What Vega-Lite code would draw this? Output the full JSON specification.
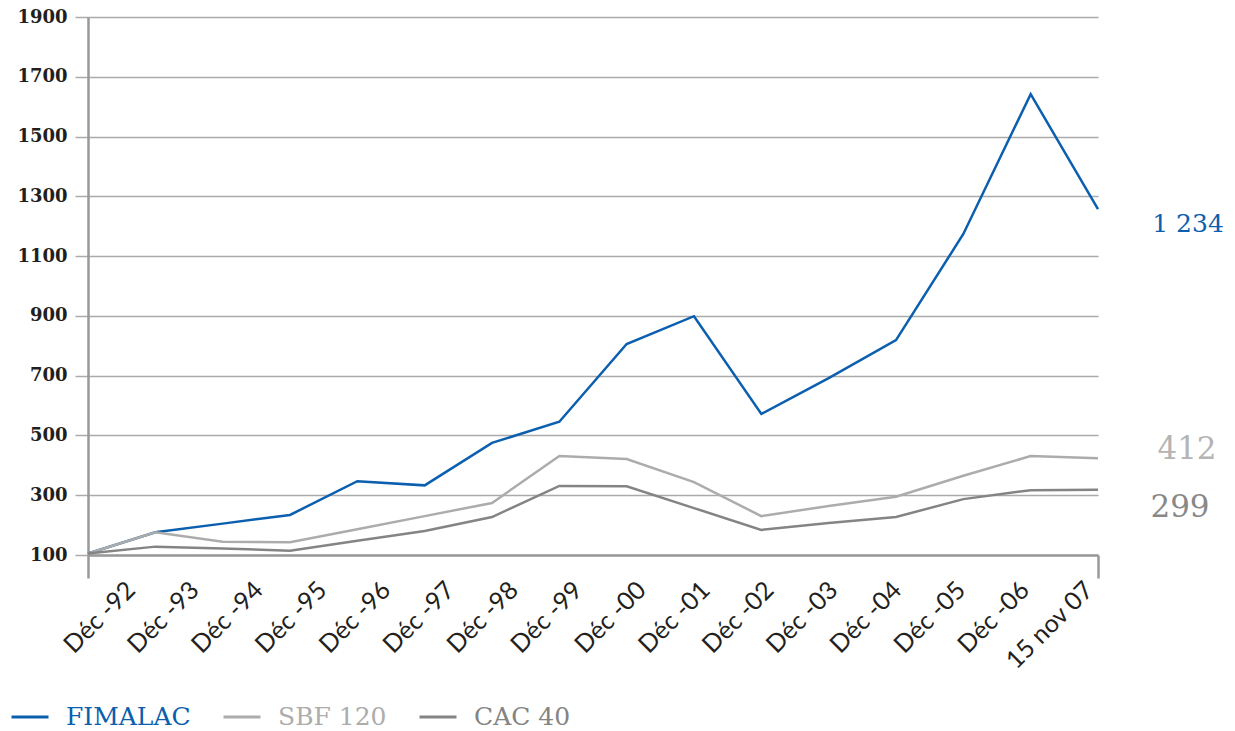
{
  "$schema": "https://vega.github.io/schema/vega-lite/v6.json",
  "width": 1010,
  "height": 538,
  "autosize": "none",
  "padding": {"left": 88, "top": 17, "right": 137, "bottom": 176},
  "background": "white",
  "config": {"view": {"stroke": null}},
  "datasets": {
    "series": [
      {"date": "Déc -92", "series": "FIMALAC", "value": 105},
      {"date": "Déc -93", "series": "FIMALAC", "value": 176},
      {"date": "Déc -94", "series": "FIMALAC", "value": 205},
      {"date": "Déc -95", "series": "FIMALAC", "value": 234},
      {"date": "Déc -96", "series": "FIMALAC", "value": 347},
      {"date": "Déc -97", "series": "FIMALAC", "value": 333},
      {"date": "Déc -98", "series": "FIMALAC", "value": 475},
      {"date": "Déc -99", "series": "FIMALAC", "value": 546},
      {"date": "Déc -00", "series": "FIMALAC", "value": 806},
      {"date": "Déc -01", "series": "FIMALAC", "value": 899},
      {"date": "Déc -02", "series": "FIMALAC", "value": 572},
      {"date": "Déc -03", "series": "FIMALAC", "value": 692},
      {"date": "Déc -04", "series": "FIMALAC", "value": 819},
      {"date": "Déc -05", "series": "FIMALAC", "value": 1174},
      {"date": "Déc -06", "series": "FIMALAC", "value": 1642},
      {"date": "15 nov 07", "series": "FIMALAC", "value": 1257},
      {"date": "Déc -92", "series": "SBF 120", "value": 105},
      {"date": "Déc -93", "series": "SBF 120", "value": 176},
      {"date": "Déc -94", "series": "SBF 120", "value": 144},
      {"date": "Déc -95", "series": "SBF 120", "value": 143},
      {"date": "Déc -96", "series": "SBF 120", "value": 186},
      {"date": "Déc -97", "series": "SBF 120", "value": 230},
      {"date": "Déc -98", "series": "SBF 120", "value": 274},
      {"date": "Déc -99", "series": "SBF 120", "value": 431},
      {"date": "Déc -00", "series": "SBF 120", "value": 421},
      {"date": "Déc -01", "series": "SBF 120", "value": 344},
      {"date": "Déc -02", "series": "SBF 120", "value": 230},
      {"date": "Déc -03", "series": "SBF 120", "value": 264},
      {"date": "Déc -04", "series": "SBF 120", "value": 295},
      {"date": "Déc -05", "series": "SBF 120", "value": 365},
      {"date": "Déc -06", "series": "SBF 120", "value": 431},
      {"date": "15 nov 07", "series": "SBF 120", "value": 424},
      {"date": "Déc -92", "series": "CAC 40", "value": 105},
      {"date": "Déc -93", "series": "CAC 40", "value": 128},
      {"date": "Déc -94", "series": "CAC 40", "value": 122},
      {"date": "Déc -95", "series": "CAC 40", "value": 114},
      {"date": "Déc -96", "series": "CAC 40", "value": 148},
      {"date": "Déc -97", "series": "CAC 40", "value": 180},
      {"date": "Déc -98", "series": "CAC 40", "value": 227},
      {"date": "Déc -99", "series": "CAC 40", "value": 331},
      {"date": "Déc -00", "series": "CAC 40", "value": 330},
      {"date": "Déc -01", "series": "CAC 40", "value": 257},
      {"date": "Déc -02", "series": "CAC 40", "value": 184},
      {"date": "Déc -03", "series": "CAC 40", "value": 207},
      {"date": "Déc -04", "series": "CAC 40", "value": 227},
      {"date": "Déc -05", "series": "CAC 40", "value": 287},
      {"date": "Déc -06", "series": "CAC 40", "value": 317},
      {"date": "15 nov 07", "series": "CAC 40", "value": 318}
    ],
    "endlabels": [
      {"date": "15 nov 07", "series": "FIMALAC", "value": 1257, "label": "1 234"},
      {"date": "15 nov 07", "series": "SBF 120", "value": 424, "label": "412"},
      {"date": "15 nov 07", "series": "CAC 40", "value": 318, "label": "299"}
    ]
  },
  "resolve": {"scale": {"x": "independent"}, "axis": {"x": "independent"}},
  "layer": [
    {
      "layer": [
        {
          "data": {"name": "series"},
          "mark": {"type": "line", "strokeWidth": 2.5, "clip": false},
          "encoding": {
            "x": {
              "field": "date",
              "type": "ordinal",
              "scale": {
                "type": "point",
                "padding": 0,
                "domain": ["Déc -92", "Déc -93", "Déc -94", "Déc -95", "Déc -96", "Déc -97", "Déc -98", "Déc -99", "Déc -00", "Déc -01", "Déc -02", "Déc -03", "Déc -04", "Déc -05", "Déc -06", "15 nov 07"]
              },
              "axis": {
                "title": null,
                "grid": false,
                "domain": true,
                "domainColor": "#999999",
                "domainWidth": 2.5,
                "ticks": true,
                "tickSize": 23,
                "tickWidth": 2.5,
                "tickColor": "#999999",
                "tickOpacity": {"condition": {"test": "datum.value == 'Déc -92' || datum.value == '15 nov 07'", "value": 1}, "value": 0},
                "labels": false
              }
            },
            "y": {
              "field": "value",
              "type": "quantitative",
              "scale": {"domain": [100, 1900], "nice": false, "zero": false},
              "axis": {
                "title": null,
                "values": [100, 300, 500, 700, 900, 1100, 1300, 1500, 1700, 1900],
                "format": "d",
                "grid": true,
                "gridColor": "#aaaaaa",
                "gridWidth": 1.5,
                "domain": true,
                "domainColor": "#999999",
                "domainWidth": 2.5,
                "ticks": true,
                "tickSize": 13,
                "tickColor": "#aaaaaa",
                "tickWidth": 1.5,
                "labelFont": "DejaVu Serif",
                "labelFontWeight": "bold",
                "labelFontSize": 18,
                "labelColor": "#231f20",
                "labelPadding": 8
              }
            },
            "color": {
              "field": "series",
              "type": "nominal",
              "scale": {"domain": ["FIMALAC", "SBF 120", "CAC 40"], "range": ["#0b5fae", "#acacac", "#848484"]},
              "legend": {
                "title": null,
                "orient": "none",
                "legendX": -78,
                "legendY": 680,
                "direction": "horizontal",
                "padding": 0,
                "symbolType": "stroke",
                "symbolStrokeWidth": 3,
                "symbolSize": 1369,
                "labelFont": "DejaVu Serif",
                "labelFontSize": 25,
                "labelOffset": 16,
                "columnPadding": 26,
                "encode": {
                  "labels": {
                    "update": {
                      "fill": {"signal": "datum.value === 'FIMALAC' ? '#0b5fae' : datum.value === 'SBF 120' ? '#acacac' : '#848484'"}
                    }
                  }
                }
              }
            }
          }
        },
        {
          "data": {"name": "endlabels"},
          "transform": [{"filter": "datum.series == 'FIMALAC'"}],
          "mark": {"type": "text", "font": "DejaVu Serif", "fontSize": 25, "color": "#0b5fae", "align": "center", "baseline": "middle", "dx": 90, "dy": 15},
          "encoding": {
            "x": {"field": "date", "type": "ordinal"},
            "y": {"field": "value", "type": "quantitative"},
            "text": {"field": "label"}
          }
        },
        {
          "data": {"name": "endlabels"},
          "transform": [{"filter": "datum.series == 'SBF 120'"}],
          "mark": {"type": "text", "font": "DejaVu Serif", "fontSize": 31, "color": "#b4b4b4", "align": "center", "baseline": "middle", "dx": 89, "dy": -8},
          "encoding": {
            "x": {"field": "date", "type": "ordinal"},
            "y": {"field": "value", "type": "quantitative"},
            "text": {"field": "label"}
          }
        },
        {
          "data": {"name": "endlabels"},
          "transform": [{"filter": "datum.series == 'CAC 40'"}],
          "mark": {"type": "text", "font": "DejaVu Serif", "fontSize": 31, "color": "#888888", "align": "center", "baseline": "middle", "dx": 82, "dy": 18},
          "encoding": {
            "x": {"field": "date", "type": "ordinal"},
            "y": {"field": "value", "type": "quantitative"},
            "text": {"field": "label"}
          }
        }
      ]
    },
    {
      "data": {"name": "series"},
      "transform": [{"filter": "datum.series == 'FIMALAC'"}],
      "mark": {"type": "text", "angle": 315, "align": "right", "baseline": "middle", "font": "Lato", "fontSize": 25, "color": "#231f20", "dx": -22, "dy": 22},
      "encoding": {
        "x": {
          "field": "date",
          "type": "ordinal",
          "scale": {
            "type": "point",
            "padding": 0,
            "range": [43, 1001],
            "domain": ["Déc -92", "Déc -93", "Déc -94", "Déc -95", "Déc -96", "Déc -97", "Déc -98", "Déc -99", "Déc -00", "Déc -01", "Déc -02", "Déc -03", "Déc -04", "Déc -05", "Déc -06", "15 nov 07"]
          },
          "axis": null
        },
        "y": {"datum": 100, "type": "quantitative"},
        "text": {"field": "date"}
      }
    }
  ]
}
